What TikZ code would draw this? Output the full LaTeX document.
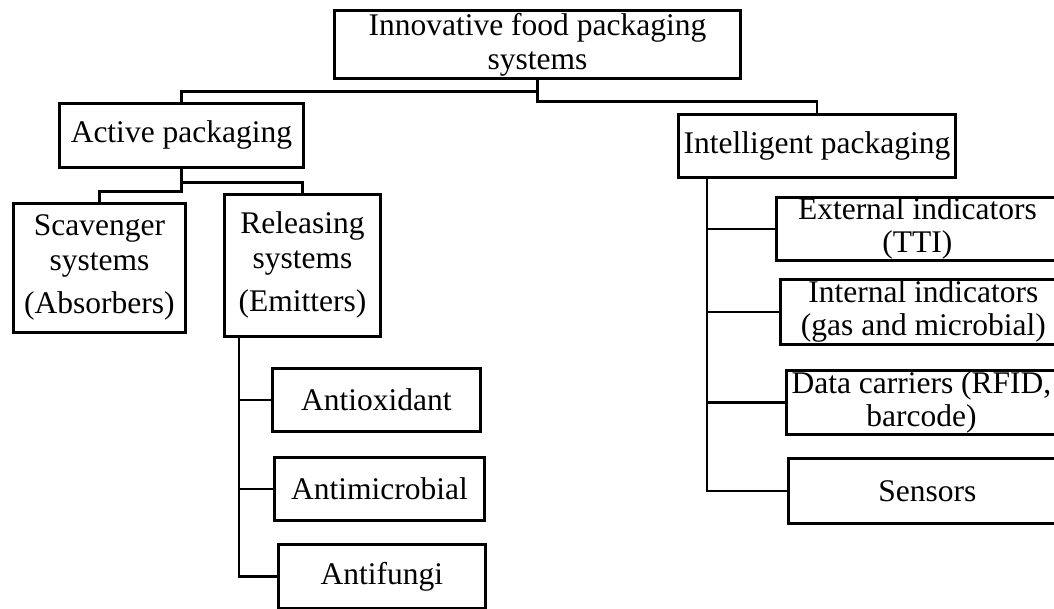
\documentclass[tikz,border=0pt]{standalone}
\usepackage{fontspec}
\setmainfont{Liberation Serif}
\begin{document}
\begin{tikzpicture}[x=1pt,y=-1pt,
  box/.style={draw=black, line width=2.8pt, fill=white, inner sep=0pt, anchor=north west,
    align=center, font=\fontsize{31.5}{34}\selectfont},
  conn/.style={draw=black, line width=2.8pt},
  ]
\useasboundingbox (0,0) rectangle (1054,608);
\fill[white] (0,0) rectangle (1054,608);
\clip (0,0) rectangle (1054,608);

\node[box, minimum width=406pt, minimum height=68pt] (top) at (333,9) {Innovative food packaging\\systems};
\node[box, minimum width=244pt, minimum height=64pt] (active) at (58,102) {Active packaging};
\node[box, minimum width=277pt, minimum height=63pt] (intel) at (677,113) {Intelligent packaging};
\node[box, minimum width=172pt, minimum height=129pt] (scav) at (12,202) {Scavenger\\[1pt]systems\\[9pt](Absorbers)};
\node[box, minimum width=156pt, minimum height=142pt] (rel) at (223,193) {Releasing\\[1pt]systems\\[9pt](Emitters)};
\node[box, minimum width=208pt, minimum height=63pt] (antiox) at (271,367) {Antioxidant};
\node[box, minimum width=210pt, minimum height=63pt] (antimic) at (273,456) {Antimicrobial};
\node[box, minimum width=207pt, minimum height=64pt] (antif) at (277,543) {Antifungi};
\node[box, minimum width=282pt, minimum height=63pt] (ext) at (775,196) {External indicators\\[-1pt](TTI)};
\node[box, minimum width=286pt, minimum height=65pt] (int) at (779,278) {Internal indicators\\[-1pt](gas and microbial)};
\node[box, minimum width=270pt, minimum height=64pt] (data) at (785,369) {Data carriers (RFID,\\[-1pt]barcode)};
\node[box, minimum width=278pt, minimum height=65pt] (sens) at (787,457) {Sensors};

\draw[conn] (top.south) -- ++(0,12) -| (active.north);
\draw[conn] (top.south) -- ++(0,22) -| (intel.north);
\draw[conn] (active.south) -- ++(0,14) -| (rel.north);
\draw[conn] (active.south) -- ++(0,23) -| (scav.north);

\coordinate (rv) at ([xshift=16pt]rel.south west);
\draw[conn] (rv) |- (antif.west);
\draw[conn] (rv) |- (antimic.west);
\draw[conn] (rv) |- (antiox.west);

\coordinate (iv) at ([xshift=30pt]intel.south west);
\draw[conn] (iv) |- (sens.west);
\draw[conn] (iv) |- (data.west);
\draw[conn] (iv) |- (int.west);
\draw[conn] (iv) |- (ext.west);
\end{tikzpicture}
\end{document}
